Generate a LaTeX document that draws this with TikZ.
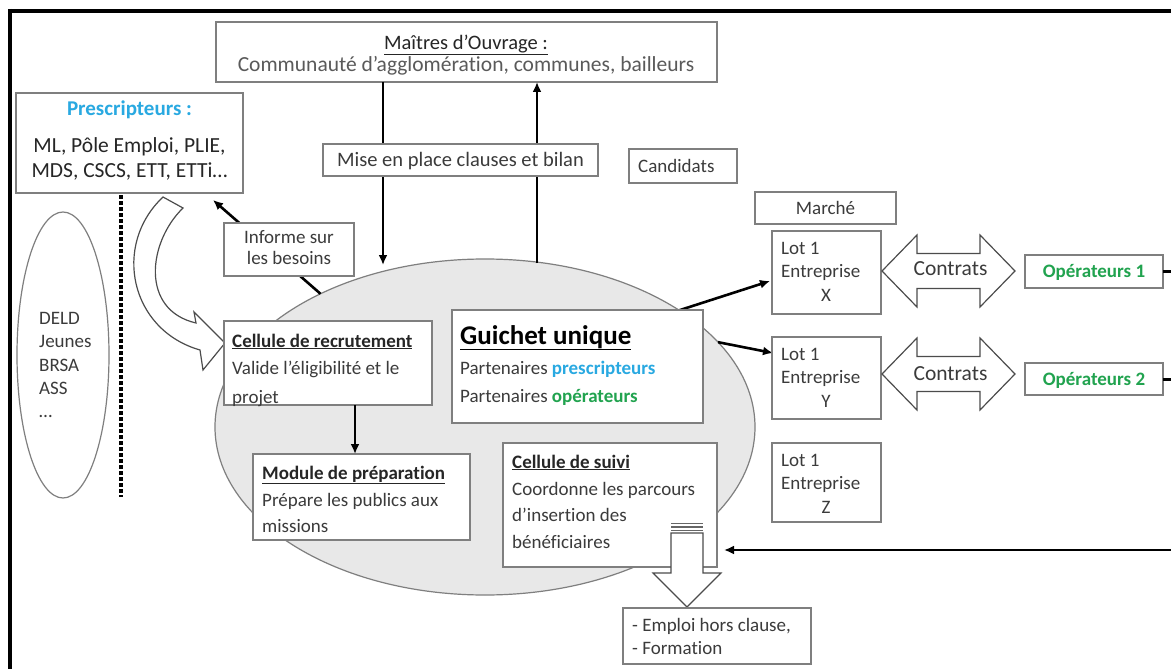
\documentclass[tikz,border=0pt]{standalone}
\usepackage{fontspec}
\setmainfont{Carlito}[Ligatures=NoCommon]
\usetikzlibrary{arrows.meta,shapes.geometric,calc}
\definecolor{txtgray}{HTML}{3B3B3B}
\definecolor{lightgray}{HTML}{5A5A5A}
\definecolor{boxline}{HTML}{7F7F7F}
\definecolor{presblue}{HTML}{29A9E1}
\definecolor{opgreen}{HTML}{21A34F}
\definecolor{hubfill}{HTML}{E8E8E8}
\begin{document}
\begin{tikzpicture}[x=1pt,y=-1pt,
  box/.style={draw=boxline, line width=1.2pt, fill=white, rectangle, inner sep=0pt, outer sep=0pt, anchor=north west},
  tx/.style={font=\fontsize{19}{23}\selectfont, text=txtgray, inner sep=0pt},
  ttl/.style={font=\fontsize{19}{23}\selectfont\bfseries, text=black!85, inner sep=0pt},
  arr/.style={draw=black, line width=2.6pt, -{Latex[length=10pt,width=9pt]}},
  blockarrow/.style={draw=black!70, line width=1.2pt, fill=white, line join=miter},
  contrat/.pic={\draw[blockarrow] (-66.5,0) -- (-31.5,-36) -- (-31.5,-17.5) -- (31.5,-17.5) -- (31.5,-36) -- (66.5,0) -- (31.5,36) -- (31.5,17.5) -- (-31.5,17.5) -- (-31.5,36) -- cycle;}
]
\useasboundingbox (0,0) rectangle (1171,669);
\fill[white] (0,0) rectangle (1171,669);

% outer frame (top and left sides)
\draw[line width=4pt] (8,11) -- (1171,11);
\draw[line width=4pt] (10,9) -- (10,669);

% target publics
\draw[line width=3.5pt, dash pattern=on 3.5pt off 2.5pt] (121,195) -- (121,497);
\node[ellipse, draw=boxline, line width=1.2pt, fill=white, minimum width=92pt, minimum height=286pt, inner sep=0pt, outer sep=0pt] (publics) at (63,355) {};
\node[tx, anchor=base west] (pubA) at (39,324) {DELD};
\node[tx, anchor=base west] (pubB) at (39,347.5) {Jeunes};
\node[tx, anchor=base west] (pubC) at (39,371) {BRSA};
\node[tx, anchor=base west] (pubD) at (39,394) {ASS};
\node[tx, anchor=base west] (pubE) at (39,417.5) {…};

% central area
\node[ellipse, draw=boxline, line width=1.2pt, fill=hubfill, minimum width=540pt, minimum height=336pt, inner sep=0pt, outer sep=0pt] (hub) at (485,427) {};

% project owners
\node[box, minimum width=501pt, minimum height=60pt] (mo) at (216,22) {};
\node[inner sep=0pt, anchor=base, font=\fontsize{20.5}{24}\selectfont, text=black!85] (moT) at (466,49.5) {\underline{Maîtres d’Ouvrage :}};
\node[inner sep=0pt, anchor=base, font=\fontsize{21.5}{24}\selectfont, text=lightgray] (moB) at (466,72) {Communauté d’agglomération, communes, bailleurs};

% exchanges with the owners and the prescribers
\coordinate (hubTopL) at (383,265);
\coordinate (hubTopR) at (537,263);
\coordinate (prescIn) at (213,200);
\coordinate (lotXin) at (770,281);
\coordinate (lotYin) at (773,353);
\draw[arr] (mo.south -| hubTopL) -- (hubTopL);
\draw[arr] (hubTopR) -- (mo.south -| hubTopR);
\draw[arr] (hub.141) -- (prescIn);
\draw[arr] (hub.31) -- (lotXin);
\draw[arr] (hub.20) -- (lotYin);

\node[box, minimum width=275pt, minimum height=32pt] (mise) at (323,144) {};
\node[tx, anchor=base, font=\fontsize{20.5}{24}\selectfont] (miseT) at (460.5,166) {Mise en place clauses et bilan};

\node[box, minimum width=130pt, minimum height=53pt] (informe) at (224,223) {};
\node[tx, anchor=base] (infA) at (289,243) {Informe sur};
\node[tx, anchor=base] (infB) at (289,264) {les besoins};

% prescribers
\node[box, minimum width=227pt, minimum height=100pt] (presc) at (16,93) {};
\node[inner sep=0pt, anchor=base, font=\fontsize{21}{24}\selectfont\bfseries, text=presblue] (prT) at (129.5,115) {Prescripteurs :};
\node[inner sep=0pt, anchor=base, font=\fontsize{21.5}{24}\selectfont, text=black!85] (prA) at (129.5,152) {ML, Pôle Emploi, PLIE,};
\node[inner sep=0pt, anchor=base, font=\fontsize{21.5}{24}\selectfont, text=black!85] (prB) at (129.5,177) {MDS, CSCS, ETT, ETTi…};

% curved orientation arrow
\draw[blockarrow] (163,197) -- (183,208) .. controls (148,242) and (140,310) .. (196,323)
  -- (194,312) -- (225,343) -- (203,370) -- (200,350)
  .. controls (130,330) and (112,245) .. (163,197) -- cycle;

% one-stop shop
\node[box, minimum width=251pt, minimum height=113pt] (guichet) at (452,310) {};
\node[inner sep=0pt, anchor=base west, font=\fontsize{27}{30}\selectfont\bfseries, text=black] (guT) at (460,344) {\underline{Guichet unique}};
\node[tx, anchor=base west] (guA) at (460,374) {Partenaires \textbf{\color{presblue}prescripteurs}};
\node[tx, anchor=base west] (guB) at (460,402) {Partenaires \textbf{\color{opgreen}opérateurs}};

% recruitment
\node[box, minimum width=208pt, minimum height=84pt] (recr) at (224,321) {};
\node[ttl, anchor=base west] (recrT) at (232,347) {\underline{Cellule de recrutement}};
\node[tx, anchor=base west] (recrA) at (232,374) {Valide l’éligibilité et le};
\node[tx, anchor=base west] (recrB) at (232,403) {projet};

% preparation
\node[box, minimum width=217pt, minimum height=86pt] (module) at (253,454) {};
\node[ttl, anchor=base west] (modT) at (262,479) {\underline{Module de préparation}};
\node[tx, anchor=base west] (modA) at (262,506) {Prépare les publics aux};
\node[tx, anchor=base west] (modB) at (262,532) {missions};
\draw[arr] (recr.south -| 355,0) -- (module.north -| 355,0);

% follow-up
\node[box, minimum width=214pt, minimum height=124pt] (suivi) at (503,443) {};
\node[ttl, anchor=base west] (suiT) at (512,468) {\underline{Cellule de suivi}};
\node[tx, anchor=base west] (suiA) at (512,495) {Coordonne les parcours};
\node[tx, anchor=base west] (suiB) at (512,521) {d’insertion des};
\node[tx, anchor=base west] (suiC) at (512,548) {bénéficiaires};

% exit arrow
\draw[blockarrow] (671,533) -- (703,533) -- (703,573) -- (721,573) -- (687,607) -- (653,573) -- (671,573) -- cycle;
\draw[black!60, line width=1.3pt] (671,523.5) -- (703,523.5);
\draw[black!60, line width=1.3pt] (671,527) -- (703,527);
\draw[black!60, line width=1.3pt] (671,530.5) -- (703,530.5);

\node[box, minimum width=188pt, minimum height=56pt] (emploi) at (623,608) {};
\node[tx, anchor=base west] (empA) at (632,631) {- Emploi hors clause,};
\node[tx, anchor=base west] (empB) at (632,654) {- Formation};

% candidates and market
\node[box, minimum width=108pt, minimum height=34pt] (cand) at (629,149) {};
\node[tx, anchor=base west] (candT) at (638,172) {Candidats};
\node[box, minimum width=141pt, minimum height=32pt] (marche) at (755,192) {};
\node[tx, anchor=base] (marT) at (825.5,214) {Marché};

% lots
\node[box, minimum width=109pt, minimum height=83pt] (lotX) at (772,231) {};
\node[tx, anchor=base west] (lotXa) at (781,254) {Lot 1};
\node[tx, anchor=base west] (lotXb) at (781,277) {Entreprise};
\node[tx, anchor=base] (lotXc) at (826,301) {X};
\node[box, minimum width=109pt, minimum height=82pt] (lotY) at (772,337) {};
\node[tx, anchor=base west] (lotYa) at (781,360) {Lot 1};
\node[tx, anchor=base west] (lotYb) at (781,383) {Entreprise};
\node[tx, anchor=base] (lotYc) at (826,407) {Y};
\node[box, minimum width=109pt, minimum height=79pt] (lotZ) at (772,443) {};
\node[tx, anchor=base west] (lotZa) at (781,466) {Lot 1};
\node[tx, anchor=base west] (lotZb) at (781,489) {Entreprise};
\node[tx, anchor=base] (lotZc) at (826,513) {Z};

% contracts with operators
\pic at (948.5,271) {contrat};
\node[tx, anchor=base, font=\fontsize{21.5}{24}\selectfont] (conX) at (950.5,275) {Contrats};
\pic at (948.5,374) {contrat};
\node[tx, anchor=base, font=\fontsize{21.5}{24}\selectfont] (conY) at (950.5,380) {Contrats};

\node[box, minimum width=138pt, minimum height=33pt] (op1) at (1025,255) {};
\node[inner sep=0pt, anchor=base, font=\fontsize{19}{23}\selectfont\bfseries, text=opgreen] (op1T) at (1094,277.5) {Opérateurs 1};
\node[box, minimum width=138pt, minimum height=32pt] (op2) at (1025,363) {};
\node[inner sep=0pt, anchor=base, font=\fontsize{19}{23}\selectfont\bfseries, text=opgreen] (op2T) at (1094,385) {Opérateurs 2};

\coordinate (edgeR) at (1171,0);
\draw[line width=3pt] (op1.east) -- (op1.east -| edgeR);
\draw[line width=3pt] (op2.east) -- (op2.east -| edgeR);

% feedback to the follow-up unit
\coordinate (backIn) at (1171,550);
\coordinate (suiviIn) at (724,550);
\draw[arr] (backIn) -- (suiviIn);
\end{tikzpicture}
\end{document}
